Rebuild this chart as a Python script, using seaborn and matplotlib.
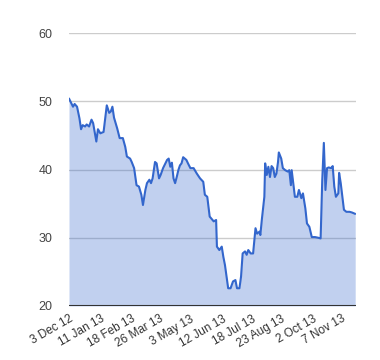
import matplotlib
matplotlib.use("Agg")
import matplotlib.pyplot as plt
import seaborn as sns
import pandas as pd
import numpy as np

start_date = "2012-12-03"
end_date = "2013-11-25"
day_offsets = [0, 5, 7, 10, 13, 15, 17, 20, 22, 25, 28, 30, 34, 36, 39, 43, 47, 50, 52, 54,
               56, 58, 60, 63, 67, 70, 72, 76, 78, 81, 84, 87, 90, 92, 95, 97, 100, 102, 104, 107,
               109, 112, 114, 117, 122, 124, 126, 128, 130, 132, 134, 136, 138, 140, 142, 146, 148, 151, 155, 159,
               163, 167, 169, 172, 175, 180, 183, 184, 187, 190, 192, 194, 196, 198, 201, 204, 207, 209, 212, 214,
               216, 219, 221, 223, 226, 229, 232, 234, 237, 238, 240, 243, 244, 246, 248, 250, 252, 254, 256, 258,
               260, 261, 264, 266, 269, 272, 274, 276, 277, 279, 281, 284, 286, 289, 291, 294, 296, 299, 302, 306,
               310, 313, 315, 317, 319, 321, 323, 326, 328, 330, 332, 335, 336, 338, 340, 342, 345, 349, 352, 356]
prices = [50.4, 49.2, 49.6, 49.2, 47.5, 45.9, 46.5, 46.3, 46.6, 46.3, 47.3, 46.8, 44.1, 45.9, 45.3, 45.5, 49.4, 48.3, 48.5, 49.2,
          47.6, 46.8, 46.0, 44.6, 44.6, 43.3, 41.9, 41.6, 41.1, 40.2, 37.7, 37.5, 36.3, 34.8, 37.0, 38.0, 38.5, 38.0, 38.7, 41.1,
          40.9, 38.7, 39.2, 40.2, 41.4, 41.6, 40.4, 41.0, 38.7, 38.0, 38.9, 39.9, 40.6, 40.9, 41.8, 41.4, 40.9, 40.2, 40.2, 39.4,
          38.7, 38.2, 36.3, 36.0, 33.1, 32.4, 32.6, 28.7, 28.2, 28.7, 27.2, 26.0, 24.3, 22.6, 22.6, 23.6, 23.8, 22.6, 22.6, 24.3,
          27.7, 28.0, 27.5, 28.2, 27.7, 27.7, 31.4, 30.6, 30.9, 30.4, 32.8, 36.0, 40.9, 39.2, 40.4, 38.9, 40.5, 40.2, 38.9, 39.4,
          41.1, 42.5, 41.6, 40.2, 39.9, 39.7, 39.9, 37.7, 39.9, 38.0, 36.0, 36.0, 37.0, 35.8, 36.5, 34.3, 32.1, 31.6, 30.1, 30.1,
          30.0, 29.9, 38.4, 43.9, 37.0, 40.2, 40.3, 40.2, 40.5, 37.5, 36.0, 36.5, 39.5, 38.0, 36.0, 34.1, 33.8, 33.8, 33.7, 33.5]
tick_dates = ["2012-12-03", "2013-01-11", "2013-02-18", "2013-03-26", "2013-05-03",
              "2013-06-12", "2013-07-18", "2013-08-23", "2013-10-02", "2013-11-07"]
tick_labels = ["3 Dec 12", "11 Jan 13", "18 Feb 13", "26 Mar 13", "3 May 13",
               "12 Jun 13", "18 Jul 13", "23 Aug 13", "2 Oct 13", "7 Nov 13"]
y_ticks = [20, 30, 40, 50, 60]

df = pd.DataFrame({
    "date": pd.Timestamp(start_date) + pd.to_timedelta(day_offsets, unit="D"),
    "price": prices,
})

sns.set_style("white")
plt.rcParams["font.family"] = ["Liberation Sans", "DejaVu Sans"]

fig = plt.figure(figsize=(3.8, 3.6), dpi=100)
ax = fig.add_axes([69 / 380, 1 - 306 / 360, (356 - 69) / 380, (306 - 33) / 360])

line_color = "#3366CC"
ax.fill_between(df["date"], 20, df["price"], color=line_color, alpha=0.3, linewidth=0, zorder=2)
sns.lineplot(data=df, x="date", y="price", ax=ax, color=line_color, linewidth=1.5, zorder=3)

ax.set_ylim(20, 60)
ax.set_xlim(pd.Timestamp(start_date), pd.Timestamp(end_date))
ax.set_yticks(y_ticks)
ax.set_yticklabels([str(v) for v in y_ticks])
ax.set_xticks(pd.to_datetime(tick_dates))
ax.set_xticklabels(tick_labels, rotation=30, ha="right", rotation_mode="anchor")

for v in y_ticks[1:]:
    ax.axhline(v, color="#cccccc", linewidth=1, zorder=1)
ax.axhline(20, color="#333333", linewidth=1.5, zorder=4)

for s in ax.spines.values():
    s.set_visible(False)
ax.tick_params(axis="y", length=0, pad=12, labelsize=9, labelcolor="#444444")
ax.tick_params(axis="x", length=0, pad=5, labelsize=8.5, labelcolor="#333333")
ax.set_xlabel("")
ax.set_ylabel("")
ax.grid(False)

fig.savefig("out.png", dpi=100)
